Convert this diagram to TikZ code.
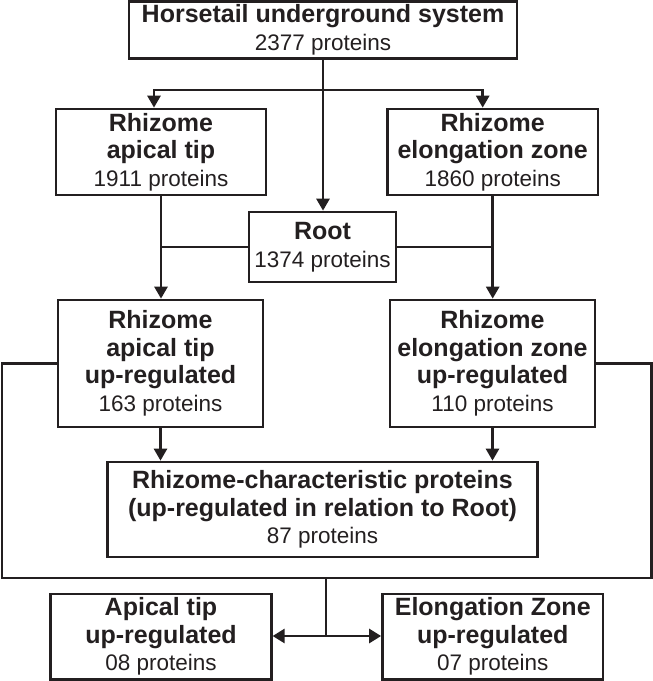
\documentclass[tikz,border=0pt]{standalone}
\usepackage{fontspec}
\setmainfont{Liberation Sans}
\usetikzlibrary{arrows.meta}
\definecolor{ink}{HTML}{231F20}
\newcommand{\bt}[1]{{\fontsize{25}{27.5}\selectfont\bfseries #1}}
\begin{document}
\begin{tikzpicture}[x=1pt, y=-1pt,
  box/.style={draw=ink, line width=2.7pt, text=ink, align=center, inner sep=0pt,
    font=\fontsize{22.5}{27.5}\selectfont},
  conn/.style={draw=ink, line width=2.7pt},
  arr/.style={conn, -{Triangle[width=13pt, length=12pt]}},
  darr/.style={conn, {Triangle[width=14pt, length=12pt]}-{Triangle[width=14pt, length=12pt]}}]
\useasboundingbox (0,0) rectangle (653,681);

\node[box, minimum width=388pt, minimum height=57pt] (top) at (323,30)
  {\bt{Horsetail underground system}\\2377 proteins};
\node[box, minimum width=210pt, minimum height=86pt] (rat) at (161,152)
  {\bt{Rhizome}\\\bt{apical tip}\\1911 proteins};
\node[box, minimum width=210.5pt, minimum height=86pt] (rez) at (492.7,152)
  {\bt{Rhizome}\\\bt{elongation zone}\\1860 proteins};
\node[box, minimum width=147pt, minimum height=70pt] (root) at (322.5,247)
  {\bt{Root}\\1374 proteins};
\node[box, minimum width=205pt, minimum height=127pt] (ratu) at (160.5,363.5)
  {\bt{Rhizome}\\\bt{apical tip}\\\bt{up-regulated}\\163 proteins};
\node[box, minimum width=205pt, minimum height=127pt] (rezu) at (492.5,363.5)
  {\bt{Rhizome}\\\bt{elongation zone}\\\bt{up-regulated}\\110 proteins};
\node[box, minimum width=430pt, minimum height=95pt] (char) at (322.5,509.5)
  {\bt{Rhizome-characteristic proteins}\\\bt{(up-regulated in relation to Root)}\\87 proteins};
\node[box, minimum width=220.5pt, minimum height=85.5pt] (atu) at (161,636.75)
  {\bt{Apical tip}\\\bt{up-regulated}\\08 proteins};
\node[box, minimum width=220.5pt, minimum height=85.5pt] (ezu) at (492.75,636.75)
  {\bt{Elongation Zone}\\\bt{up-regulated}\\07 proteins};

% top to root and branches
\coordinate (bj) at (323,90);
\draw[arr] (top.south) -- (top.south |- root.north);
\draw[arr] (bj) -| ([xshift=-7pt]rat.north);
\draw[arr] (bj) -| ([xshift=-10pt]rez.north);

% second level
\draw[arr] (rat.south) -- (rat.south |- ratu.north);
\draw[arr] (rez.south) -- (rez.south |- rezu.north);
\draw[conn] (root.west) -- (root.west -| rat.south);
\draw[conn] (root.east) -- (root.east -| rez.south);

% to characteristic box
\draw[arr] (ratu.south) -- (ratu.south |- char.north);
\draw[arr] (rezu.south) -- (rezu.south |- char.north);

% bracket
\coordinate (bbl) at (2,578);
\coordinate (bbr) at (651.5,578);
\coordinate (bm) at (326,578);
\coordinate (bj2) at (326,636);
\draw[conn] (ratu.west) -| (bbl) -- (bbr) |- (rezu.east);
\draw[conn] (bm) -- (bj2);
\draw[darr] (atu.east |- bj2) -- (ezu.west |- bj2);
\end{tikzpicture}
\end{document}
